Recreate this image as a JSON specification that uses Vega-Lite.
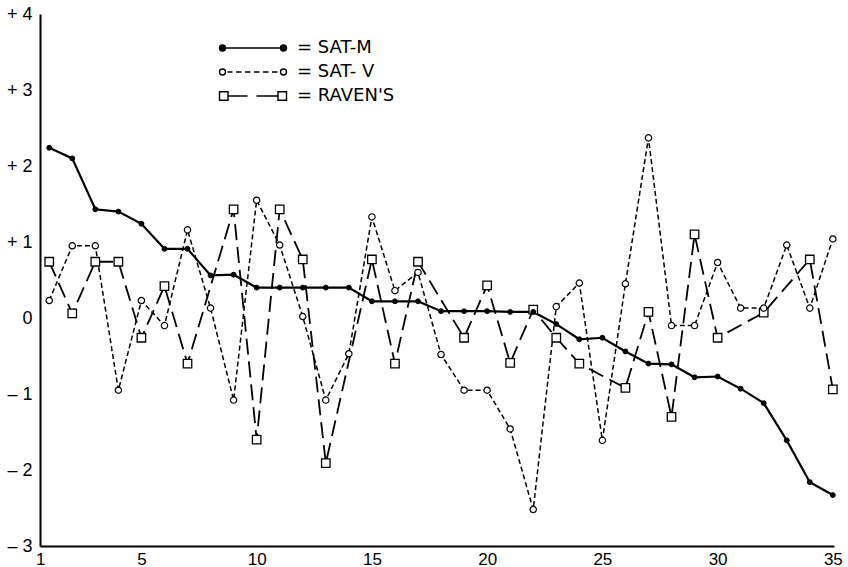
{
  "$schema": "https://vega.github.io/schema/vega-lite/v6.json",
  "width": 794,
  "height": 532,
  "autosize": {"type": "none"},
  "padding": {"left": 40, "top": 14, "right": 14, "bottom": 21},
  "background": "white",
  "config": {"view": {"stroke": null}, "font": "Liberation Sans"},
  "datasets": {
    "yticks": [{"t": -2}, {"t": -1}, {"t": 0}, {"t": 1}, {"t": 2}, {"t": 3}, {"t": 4}],
    "xticks": [{"k":1},{"k":2},{"k":3},{"k":4},{"k":5},{"k":6},{"k":7},{"k":8},{"k":9},{"k":10},{"k":11},{"k":12},{"k":13},{"k":14},{"k":15},{"k":16},{"k":17},{"k":18},{"k":19},{"k":20},{"k":21},{"k":22},{"k":23},{"k":24},{"k":25},{"k":26},{"k":27},{"k":28},{"k":29},{"k":30},{"k":31},{"k":32},{"k":33},{"k":34},{"k":35}]
  },
  "data": {"values": [
    {"x":1,"s":"SAT-M","v":2.24},{"x":2,"s":"SAT-M","v":2.10},{"x":3,"s":"SAT-M","v":1.43},{"x":4,"s":"SAT-M","v":1.40},{"x":5,"s":"SAT-M","v":1.24},
    {"x":6,"s":"SAT-M","v":0.91},{"x":7,"s":"SAT-M","v":0.91},{"x":8,"s":"SAT-M","v":0.56},{"x":9,"s":"SAT-M","v":0.57},{"x":10,"s":"SAT-M","v":0.40},
    {"x":11,"s":"SAT-M","v":0.40},{"x":12,"s":"SAT-M","v":0.40},{"x":13,"s":"SAT-M","v":0.40},{"x":14,"s":"SAT-M","v":0.40},{"x":15,"s":"SAT-M","v":0.22},
    {"x":16,"s":"SAT-M","v":0.22},{"x":17,"s":"SAT-M","v":0.22},{"x":18,"s":"SAT-M","v":0.09},{"x":19,"s":"SAT-M","v":0.09},{"x":20,"s":"SAT-M","v":0.09},
    {"x":21,"s":"SAT-M","v":0.08},{"x":22,"s":"SAT-M","v":0.08},{"x":23,"s":"SAT-M","v":-0.08},{"x":24,"s":"SAT-M","v":-0.28},{"x":25,"s":"SAT-M","v":-0.26},
    {"x":26,"s":"SAT-M","v":-0.44},{"x":27,"s":"SAT-M","v":-0.60},{"x":28,"s":"SAT-M","v":-0.61},{"x":29,"s":"SAT-M","v":-0.78},{"x":30,"s":"SAT-M","v":-0.77},
    {"x":31,"s":"SAT-M","v":-0.93},{"x":32,"s":"SAT-M","v":-1.12},{"x":33,"s":"SAT-M","v":-1.61},{"x":34,"s":"SAT-M","v":-2.16},{"x":35,"s":"SAT-M","v":-2.33},
    {"x":1,"s":"SAT- V","v":0.23},{"x":2,"s":"SAT- V","v":0.95},{"x":3,"s":"SAT- V","v":0.95},{"x":4,"s":"SAT- V","v":-0.95},{"x":5,"s":"SAT- V","v":0.23},
    {"x":6,"s":"SAT- V","v":-0.10},{"x":7,"s":"SAT- V","v":1.16},{"x":8,"s":"SAT- V","v":0.13},{"x":9,"s":"SAT- V","v":-1.08},{"x":10,"s":"SAT- V","v":1.55},
    {"x":11,"s":"SAT- V","v":0.96},{"x":12,"s":"SAT- V","v":0.02},{"x":13,"s":"SAT- V","v":-1.08},{"x":14,"s":"SAT- V","v":-0.47},{"x":15,"s":"SAT- V","v":1.33},
    {"x":16,"s":"SAT- V","v":0.36},{"x":17,"s":"SAT- V","v":0.60},{"x":18,"s":"SAT- V","v":-0.48},{"x":19,"s":"SAT- V","v":-0.95},{"x":20,"s":"SAT- V","v":-0.95},
    {"x":21,"s":"SAT- V","v":-1.46},{"x":22,"s":"SAT- V","v":-2.52},{"x":23,"s":"SAT- V","v":0.15},{"x":24,"s":"SAT- V","v":0.46},{"x":25,"s":"SAT- V","v":-1.61},
    {"x":26,"s":"SAT- V","v":0.45},{"x":27,"s":"SAT- V","v":2.37},{"x":28,"s":"SAT- V","v":-0.10},{"x":29,"s":"SAT- V","v":-0.10},{"x":30,"s":"SAT- V","v":0.73},
    {"x":31,"s":"SAT- V","v":0.13},{"x":32,"s":"SAT- V","v":0.13},{"x":33,"s":"SAT- V","v":0.96},{"x":34,"s":"SAT- V","v":0.13},{"x":35,"s":"SAT- V","v":1.04},
    {"x":1,"s":"RAVEN'S","v":0.74},{"x":2,"s":"RAVEN'S","v":0.06},{"x":3,"s":"RAVEN'S","v":0.74},{"x":4,"s":"RAVEN'S","v":0.74},{"x":5,"s":"RAVEN'S","v":-0.26},
    {"x":6,"s":"RAVEN'S","v":0.42},{"x":7,"s":"RAVEN'S","v":-0.60},{"x":9,"s":"RAVEN'S","v":1.43},{"x":10,"s":"RAVEN'S","v":-1.60},
    {"x":11,"s":"RAVEN'S","v":1.43},{"x":12,"s":"RAVEN'S","v":0.77},{"x":13,"s":"RAVEN'S","v":-1.91},{"x":15,"s":"RAVEN'S","v":0.77},
    {"x":16,"s":"RAVEN'S","v":-0.60},{"x":17,"s":"RAVEN'S","v":0.74},{"x":19,"s":"RAVEN'S","v":-0.26},{"x":20,"s":"RAVEN'S","v":0.43},
    {"x":21,"s":"RAVEN'S","v":-0.59},{"x":22,"s":"RAVEN'S","v":0.11},{"x":23,"s":"RAVEN'S","v":-0.26},{"x":24,"s":"RAVEN'S","v":-0.60},
    {"x":26,"s":"RAVEN'S","v":-0.92},{"x":27,"s":"RAVEN'S","v":0.08},{"x":28,"s":"RAVEN'S","v":-1.30},{"x":29,"s":"RAVEN'S","v":1.10},{"x":30,"s":"RAVEN'S","v":-0.26},
    {"x":32,"s":"RAVEN'S","v":0.07},{"x":34,"s":"RAVEN'S","v":0.77},{"x":35,"s":"RAVEN'S","v":-0.94}
  ]},
  "encoding": {
    "x": {"field": "x", "type": "quantitative",
      "scale": {"domain": [0.6, 35.05], "nice": false, "zero": false},
      "axis": {"values": [1,2,3,4,5,6,7,8,9,10,11,12,13,14,15,16,17,18,19,20,21,22,23,24,25,26,27,28,29,30,31,32,33,34,35],
        "labelExpr": "datum.value == 1 || datum.value % 5 == 0 ? datum.label : ''",
        "title": null, "ticks": false, "grid": false,
        "domainColor": "black", "domainWidth": 2, "labelFontSize": 17, "labelColor": "black",
        "labelPadding": 5, "labelFlush": false, "labelOverlap": false, "zindex": 1,
        "labelOffset": {"condition": {"test": "datum.value == 1", "value": -9}, "value": 0}}},
    "y": {"field": "v", "type": "quantitative",
      "scale": {"domain": [-3, 4], "nice": false, "zero": false},
      "axis": {"values": [-3,-2,-1,0,1,2,3,4],
        "labelExpr": "datum.value > 0 ? '+ ' + datum.value : (datum.value < 0 ? '\u2013 ' + abs(datum.value) : '0')",
        "title": null, "ticks": false, "grid": false,
        "domainColor": "black", "domainWidth": 2, "labelFontSize": 18, "labelColor": "black",
        "labelPadding": 8, "labelOverlap": false, "zindex": 1}}
  },
  "layer": [
    {"data": {"name": "yticks"},
     "mark": {"type": "rule", "stroke": "black", "strokeWidth": 1.5, "opacity": 1, "strokeOpacity": 1, "clip": false},
     "encoding": {"x": {"datum": 0.6, "type": "quantitative"}, "x2": {"datum": 1.16}, "y": {"field": "t", "type": "quantitative"}}},
    {"data": {"name": "xticks"},
     "mark": {"type": "rule", "stroke": "black", "strokeWidth": 1.5, "opacity": 1, "strokeOpacity": 1, "clip": false},
     "encoding": {"x": {"field": "k", "type": "quantitative"}, "y": {"datum": -3, "type": "quantitative"}, "y2": {"datum": -2.87}}},
    {"transform": [{"filter": "datum.s == 'RAVEN\\'S'"}],
     "mark": {"type": "line", "color": "black", "strokeWidth": 1.8, "strokeDash": [16, 7]}, "encoding": {}},
    {"transform": [{"filter": "datum.s == 'SAT- V'"}],
     "mark": {"type": "line", "color": "black", "strokeWidth": 1.5, "strokeDash": [5, 3]}, "encoding": {}},
    {"transform": [{"filter": "datum.s == 'SAT-M'"}],
     "mark": {"type": "line", "color": "black", "strokeWidth": 2.2}, "encoding": {}},
    {"transform": [{"filter": "datum.s == 'RAVEN\\'S'"}],
     "mark": {"type": "point", "shape": "square", "filled": true, "fill": "white", "stroke": "black", "strokeWidth": 1.3, "size": 72, "opacity": 1}},
    {"transform": [{"filter": "datum.s == 'SAT- V'"}],
     "mark": {"type": "point", "shape": "circle", "filled": true, "fill": "white", "stroke": "black", "strokeWidth": 1.2, "size": 40, "opacity": 1}},
    {"transform": [{"filter": "datum.s == 'SAT-M'"}],
     "mark": {"type": "point", "shape": "circle", "filled": true, "fill": "black", "stroke": "black", "strokeWidth": 1, "size": 24, "opacity": 1}},
    {"mark": {"type": "point", "filled": true, "strokeWidth": 1.4, "opacity": 0, "size": 100},
     "encoding": {
       "shape": {"field": "s", "type": "nominal",
         "scale": {"domain": ["SAT-M", "SAT- V", "RAVEN'S"],
           "range": [
             "M-6.7,0L6.7,0M-5.5,0A0.6,0.6 0 1 0 -6.7,0A0.6,0.6 0 1 0 -5.5,0M6.7,0A0.6,0.6 0 1 0 5.5,0A0.6,0.6 0 1 0 6.7,0",
             "M-5.5,0A0.6,0.6 0 1 0 -6.7,0A0.6,0.6 0 1 0 -5.5,0M6.7,0A0.6,0.6 0 1 0 5.5,0A0.6,0.6 0 1 0 6.7,0M-5.1,0L-4.1,0M-3.4,0L-2.3,0M-1.6,0L-0.5,0M0.2,0L1.3,0M2.0,0L3.1,0M3.8,0L4.9,0",
             "M-6.7,-0.85L-5.0,-0.85L-5.0,0.85L-6.7,0.85ZM5.0,-0.85L6.7,-0.85L6.7,0.85L5.0,0.85ZM-5.0,0L-1.1,0M0.7,0L5.0,0"
           ]},
         "legend": {"title": null, "orient": "none", "legendX": 204, "legendY": 25, "symbolSize": 100,
           "symbolStrokeWidth": 1.4, "symbolOpacity": 1,
           "labelFontSize": 18, "labelFont": "DejaVu Sans", "labelColor": "black", "labelOffset": 35,
           "rowPadding": 6, "padding": 0, "labelExpr": "'=  ' + datum.label"}},
       "fill": {"field": "s", "type": "nominal",
         "scale": {"domain": ["SAT-M", "SAT- V", "RAVEN'S"], "range": ["black", "white", "white"]},
         "legend": {"title": null, "orient": "none", "legendX": 204, "legendY": 25, "symbolSize": 100,
           "symbolStrokeWidth": 1.4, "symbolOpacity": 1,
           "labelFontSize": 18, "labelFont": "DejaVu Sans", "labelColor": "black", "labelOffset": 35,
           "rowPadding": 6, "padding": 0, "labelExpr": "'=  ' + datum.label"}},
       "stroke": {"field": "s", "type": "nominal",
         "scale": {"domain": ["SAT-M", "SAT- V", "RAVEN'S"], "range": ["black", "black", "black"]},
         "legend": {"title": null, "orient": "none", "legendX": 204, "legendY": 25, "symbolSize": 100,
           "symbolStrokeWidth": 1.4, "symbolOpacity": 1,
           "labelFontSize": 18, "labelFont": "DejaVu Sans", "labelColor": "black", "labelOffset": 35,
           "rowPadding": 6, "padding": 0, "labelExpr": "'=  ' + datum.label"}}
     }}
  ]
}
